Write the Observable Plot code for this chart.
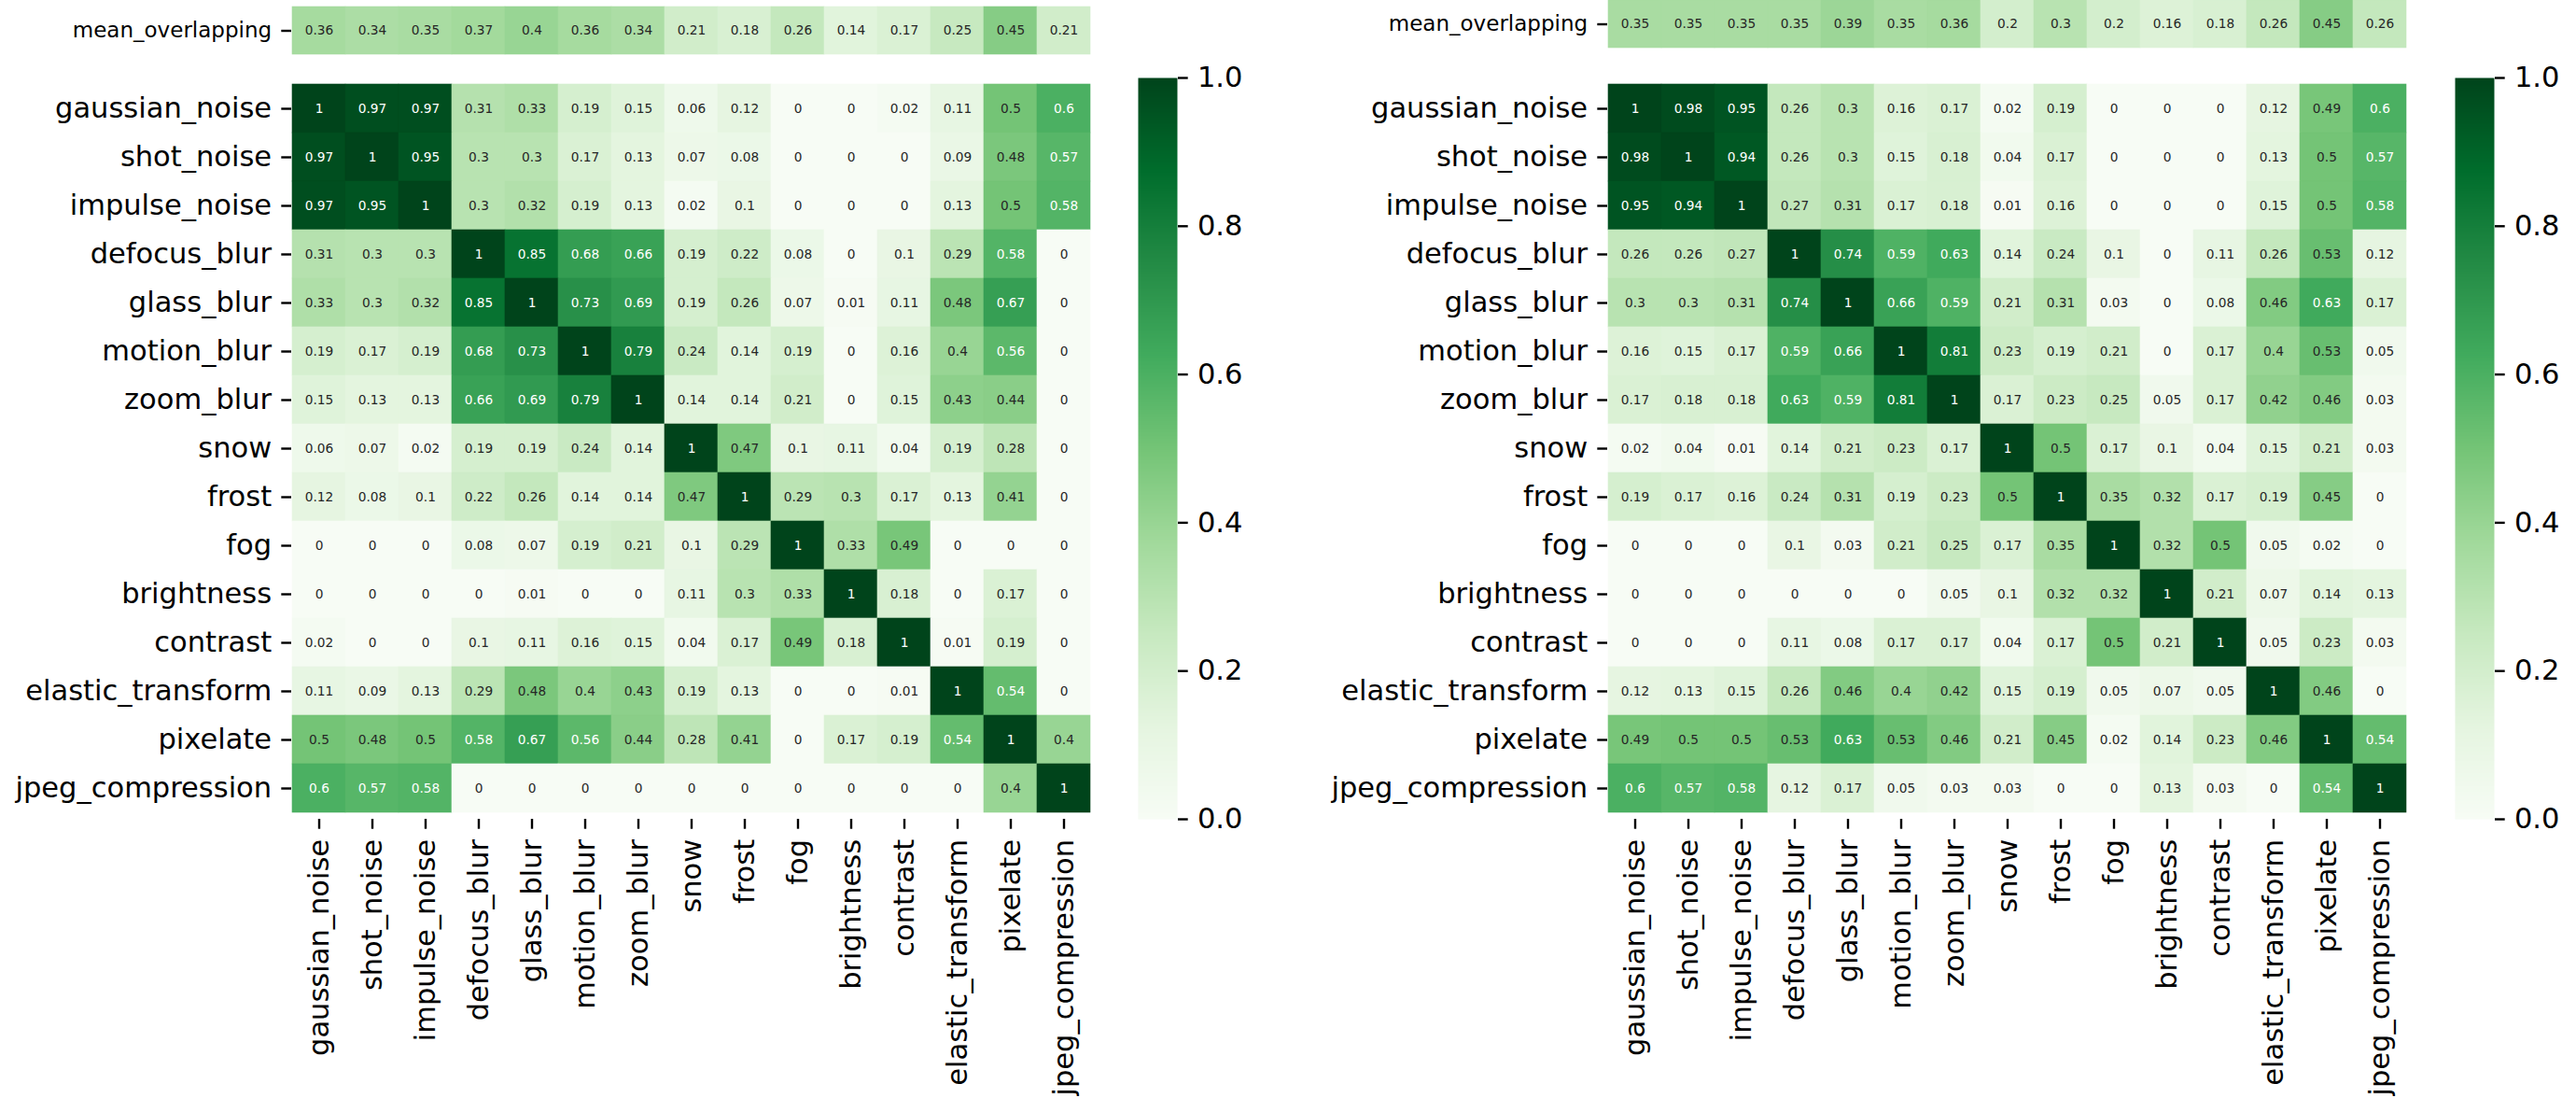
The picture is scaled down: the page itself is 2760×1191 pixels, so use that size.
<!DOCTYPE html>
<html><head><meta charset="utf-8">
<script src="https://cdn.jsdelivr.net/npm/d3@7"></script>
<script src="https://cdn.jsdelivr.net/npm/@observablehq/plot@0.6"></script>
<style>
body{margin:0;background:#fff;}
#root{position:relative;width:2760px;height:1191px;overflow:hidden;background:#fff;}
#root svg{position:absolute;overflow:visible;}
</style></head><body><div id="root"></div>
<script>
const categories = ["gaussian_noise","shot_noise","impulse_noise","defocus_blur","glass_blur","motion_blur","zoom_blur","snow","frost","fog","brightness","contrast","elastic_transform","pixelate","jpeg_compression"];
const meanLabel = ["mean_overlapping"];

const leftMean = [0.36,0.34,0.35,0.37,0.4,0.36,0.34,0.21,0.18,0.26,0.14,0.17,0.25,0.45,0.21];
const leftMatrix = [
  [1,0.97,0.97,0.31,0.33,0.19,0.15,0.06,0.12,0,0,0.02,0.11,0.5,0.6],
  [0.97,1,0.95,0.3,0.3,0.17,0.13,0.07,0.08,0,0,0,0.09,0.48,0.57],
  [0.97,0.95,1,0.3,0.32,0.19,0.13,0.02,0.1,0,0,0,0.13,0.5,0.58],
  [0.31,0.3,0.3,1,0.85,0.68,0.66,0.19,0.22,0.08,0,0.1,0.29,0.58,0],
  [0.33,0.3,0.32,0.85,1,0.73,0.69,0.19,0.26,0.07,0.01,0.11,0.48,0.67,0],
  [0.19,0.17,0.19,0.68,0.73,1,0.79,0.24,0.14,0.19,0,0.16,0.4,0.56,0],
  [0.15,0.13,0.13,0.66,0.69,0.79,1,0.14,0.14,0.21,0,0.15,0.43,0.44,0],
  [0.06,0.07,0.02,0.19,0.19,0.24,0.14,1,0.47,0.1,0.11,0.04,0.19,0.28,0],
  [0.12,0.08,0.1,0.22,0.26,0.14,0.14,0.47,1,0.29,0.3,0.17,0.13,0.41,0],
  [0,0,0,0.08,0.07,0.19,0.21,0.1,0.29,1,0.33,0.49,0,0,0],
  [0,0,0,0,0.01,0,0,0.11,0.3,0.33,1,0.18,0,0.17,0],
  [0.02,0,0,0.1,0.11,0.16,0.15,0.04,0.17,0.49,0.18,1,0.01,0.19,0],
  [0.11,0.09,0.13,0.29,0.48,0.4,0.43,0.19,0.13,0,0,0.01,1,0.54,0],
  [0.5,0.48,0.5,0.58,0.67,0.56,0.44,0.28,0.41,0,0.17,0.19,0.54,1,0.4],
  [0.6,0.57,0.58,0,0,0,0,0,0,0,0,0,0,0.4,1]
];

const rightMean = [0.35,0.35,0.35,0.35,0.39,0.35,0.36,0.2,0.3,0.2,0.16,0.18,0.26,0.45,0.26];
const rightMatrix = [
  [1,0.98,0.95,0.26,0.3,0.16,0.17,0.02,0.19,0,0,0,0.12,0.49,0.6],
  [0.98,1,0.94,0.26,0.3,0.15,0.18,0.04,0.17,0,0,0,0.13,0.5,0.57],
  [0.95,0.94,1,0.27,0.31,0.17,0.18,0.01,0.16,0,0,0,0.15,0.5,0.58],
  [0.26,0.26,0.27,1,0.74,0.59,0.63,0.14,0.24,0.1,0,0.11,0.26,0.53,0.12],
  [0.3,0.3,0.31,0.74,1,0.66,0.59,0.21,0.31,0.03,0,0.08,0.46,0.63,0.17],
  [0.16,0.15,0.17,0.59,0.66,1,0.81,0.23,0.19,0.21,0,0.17,0.4,0.53,0.05],
  [0.17,0.18,0.18,0.63,0.59,0.81,1,0.17,0.23,0.25,0.05,0.17,0.42,0.46,0.03],
  [0.02,0.04,0.01,0.14,0.21,0.23,0.17,1,0.5,0.17,0.1,0.04,0.15,0.21,0.03],
  [0.19,0.17,0.16,0.24,0.31,0.19,0.23,0.5,1,0.35,0.32,0.17,0.19,0.45,0],
  [0,0,0,0.1,0.03,0.21,0.25,0.17,0.35,1,0.32,0.5,0.05,0.02,0],
  [0,0,0,0,0,0,0.05,0.1,0.32,0.32,1,0.21,0.07,0.14,0.13],
  [0,0,0,0.11,0.08,0.17,0.17,0.04,0.17,0.5,0.21,1,0.05,0.23,0.03],
  [0.12,0.13,0.15,0.26,0.46,0.4,0.42,0.15,0.19,0.05,0.07,0.05,1,0.46,0],
  [0.49,0.5,0.5,0.53,0.63,0.53,0.46,0.21,0.45,0.02,0.14,0.23,0.46,1,0.54],
  [0.6,0.57,0.58,0.12,0.17,0.05,0.03,0.03,0,0,0.13,0.03,0,0.54,1]
];

const colorbarTicks = [0, 0.2, 0.4, 0.6, 0.8, 1.0];

// ---- styling ----
const FONT = "DejaVu Sans";
const greens = ["#f7fcf5","#e5f5e0","#c7e9c0","#a1d99b","#74c476","#41ab5d","#238b45","#006d2c","#00441b"];
const colorOpts = {type: "linear", domain: greens.map((_, i) => i / 8), range: greens, interpolate: "rgb"};
const cmap = d3.scaleLinear().domain(colorOpts.domain).range(greens).interpolate(d3.interpolateRgb);
function lum(v) {
  const c = d3.rgb(cmap(v));
  const f = x => { x /= 255; return x <= 0.03928 ? x / 12.92 : Math.pow((x + 0.055) / 1.055, 2.4); };
  return 0.2126 * f(c.r) + 0.7152 * f(c.g) + 0.0722 * f(c.b);
}
const isLight = d => lum(d.value) > 0.408;
const fmt = d3.format(".2~g");
const TICK = 10.7, PAD = 10.7, TW = 2.4, LABEL = 30.5, ANNOT = 13.7;
const root = document.getElementById("root");
function place(svg, left, top) { svg.style.left = left + "px"; svg.style.top = top + "px"; root.appendChild(svg); }

function annotMarks(data) {
  return [
    Plot.cell(data, {x: "col", y: "row", fill: "value", stroke: "value", strokeWidth: 0.6, inset: 0}),
    Plot.text(data.filter(isLight), {x: "col", y: "row", text: d => fmt(d.value), fill: "#262626", fontSize: ANNOT}),
    Plot.text(data.filter(d => !isLight(d)), {x: "col", y: "row", text: d => fmt(d.value), fill: "white", fontSize: ANNOT})
  ];
}

function mainHeatmap(matrix, left) {
  const data = categories.flatMap((r, i) => categories.map((c, j) => ({row: r, col: c, value: matrix[i][j]})));
  const svg = Plot.plot({
    width: 1190, height: 1191,
    marginLeft: 312, marginRight: 22, marginTop: 83, marginBottom: 314,
    style: {background: "transparent", fontFamily: FONT, color: "black", overflow: "visible"},
    x: {domain: categories, padding: 0, label: null},
    y: {domain: categories, padding: 0, label: null},
    color: colorOpts,
    marks: [
      ...annotMarks(data),
      Plot.axisY({tickSize: TICK, tickPadding: PAD, fontSize: LABEL, strokeWidth: TW, label: null}),
      Plot.axisX({tickSize: TICK, tickPadding: PAD, fontSize: LABEL, strokeWidth: TW, tickRotate: -90, label: null})
    ]
  });
  place(svg, left, 0);
}

function meanRow(values, left, top) {
  const data = categories.map((c, j) => ({row: meanLabel[0], col: c, value: values[j]}));
  const svg = Plot.plot({
    width: 1190, height: 51 + 20,
    marginLeft: 312, marginRight: 22, marginTop: 0, marginBottom: 20,
    style: {background: "transparent", fontFamily: FONT, color: "black", overflow: "visible"},
    x: {domain: categories, padding: 0, axis: null},
    y: {domain: meanLabel, padding: 0, label: null},
    color: colorOpts,
    marks: [
      ...annotMarks(data),
      Plot.axisY({tickSize: TICK, tickPadding: PAD, fontSize: 23, strokeWidth: TW, label: null})
    ]
  });
  place(svg, left, top);
}

function colorbar(left) {
  const svg = Plot.plot({
    width: 160, height: 1191,
    marginLeft: 30, marginRight: 88, marginTop: 83, marginBottom: 314,
    style: {background: "transparent", fontFamily: FONT, color: "black", overflow: "visible"},
    x: {domain: [0, 1], axis: null},
    y: {domain: [0, 1], label: null},
    color: colorOpts,
    marks: [
      Plot.raster({fill: (x, y) => y, x1: 0, x2: 1, y1: 0, y2: 1, width: 2, height: 600}),
      Plot.axisY({anchor: "right", ticks: colorbarTicks, tickFormat: d3.format(".1f"), tickSize: TICK, tickPadding: PAD, fontSize: LABEL, strokeWidth: TW, label: null})
    ]
  });
  place(svg, left, 0);
}

meanRow(leftMean, 0, 7);
mainHeatmap(leftMatrix, 0);
colorbar(1189);
meanRow(rightMean, 1410, 0);
mainHeatmap(rightMatrix, 1410);
colorbar(2600);
</script></body></html>
